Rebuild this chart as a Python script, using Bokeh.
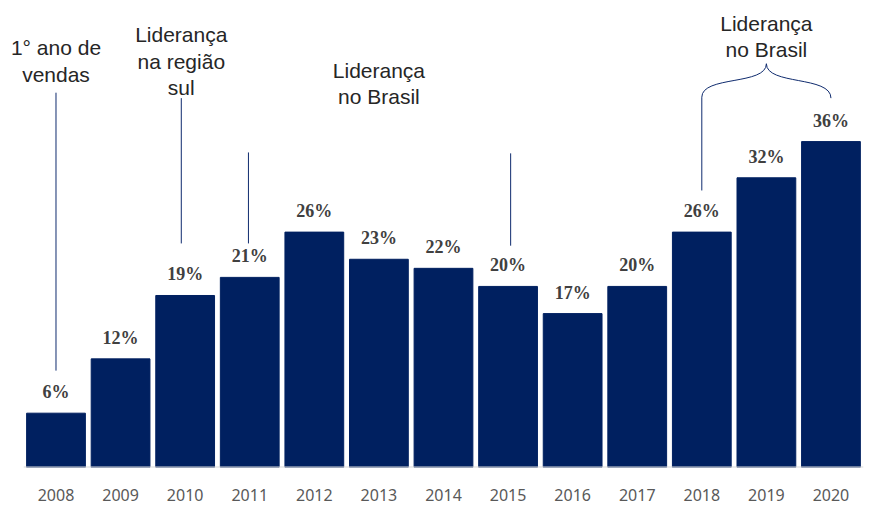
from bokeh.plotting import figure
from bokeh.models import ColumnDataSource, LabelSet, Label, Range1d, FixedTicker
from bokeh.embed import file_html
from bokeh.resources import INLINE

# ---- data ----
years = ["2008", "2009", "2010", "2011", "2012", "2013", "2014",
         "2015", "2016", "2017", "2018", "2019", "2020"]
share = [6, 12, 19, 21, 26, 23, 22, 20, 17, 20, 26, 32, 36]

BAR = "#002060"
LINE = "#0f2b6e"
TXT = "#262626"

idx = list(range(len(years)))
src = ColumnDataSource(dict(x=idx, value=share, label=[f"{v}%" for v in share]))

p = figure(frame_width=870, frame_height=459, output_backend="svg",
           toolbar_location=None, x_range=Range1d(-0.7355, 12.736),
           y_range=Range1d(0, 50.7), y_axis_location=None,
           min_border_left=8, min_border_top=8, min_border_right=0, min_border_bottom=40)
p.outline_line_color = None
p.xgrid.visible = False
p.ygrid.visible = False

p.vbar(x="x", top="value", width=0.91, source=src, color=BAR)

# baseline
p.segment(x0=[-0.5], y0=[0], x1=[len(years) - 0.5], y1=[0], line_color="#d9d9d9", line_width=2)

labels = LabelSet(x="x", y="value", text="label", source=src, y_offset=21,
                  text_align="center", text_baseline="middle",
                  text_font="Liberation Serif", text_font_style="bold",
                  text_font_size="18px", text_color="#404040")
p.add_layout(labels)

ax = p.xaxis[0]
ax.ticker = FixedTicker(ticks=idx)
ax.major_label_overrides = {i: y for i, y in enumerate(years)}
ax.axis_line_color = None
ax.major_tick_line_color = None
ax.minor_tick_line_color = None
ax.major_label_standoff = 15
ax.major_label_text_font = "Noto Sans"
ax.major_label_text_font_size = "16px"
ax.major_label_text_color = "#595959"

# ---- annotations ----
notes = [
    (0, 44.9, "1° ano de\nvendas"),
    (1.94, 44.86, "Liderança\nna região\nsul"),
    (5, 42.4, "Liderança\nno Brasil"),
    (11, 47.6, "Liderança\nno Brasil"),
]
for x, y, t in notes:
    p.add_layout(Label(x=x, y=y, text=t, text_align="center", text_baseline="middle",
                       text_font="Liberation Sans", text_font_size="21px",
                       text_color=TXT, text_line_height=1.15))

# pointer lines (x: category index, y0/y1 in chart units)
p.segment(x0=[0, 1.94, 2.98, 7.04, 10], y0=[41.4, 40.8, 34.8, 34.7, 30.6],
          x1=[0, 1.94, 2.98, 7.04, 10], y1=[10.7, 24.75, 24.75, 24.5, 40.9],
          line_color=LINE, line_width=1)

# brace
p.bezier(x0=[10, 12], y0=[40.9, 40.8], x1=[11, 11], y1=[44.6, 44.6],
         cx0=[10, 12], cy0=[43.3, 43.3], cx1=[11, 11], cy1=[42.2, 42.2],
         line_color=LINE, line_width=1)

open("out.html", "w").write(file_html(p, INLINE))
